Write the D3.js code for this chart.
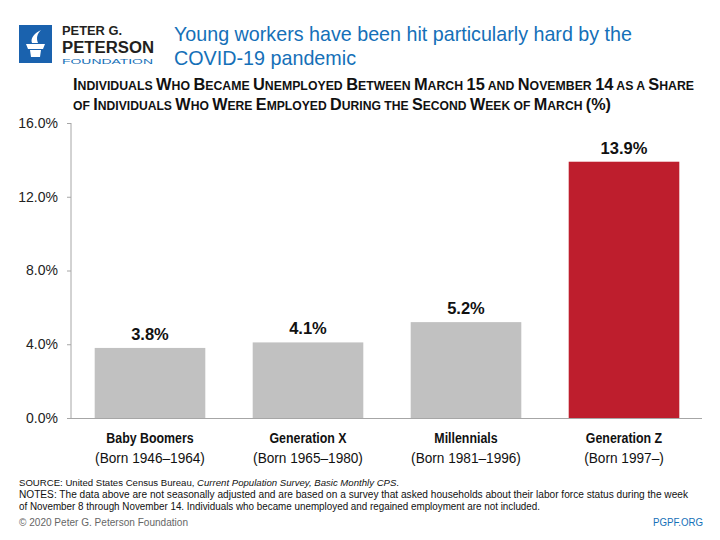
<!DOCTYPE html>
<html>
<head>
<meta charset="utf-8">
<script src="https://cdn.jsdelivr.net/npm/d3@7"></script>
<style>
  body { margin: 0; background: #fff; }
  svg { display: block; font-family: "Liberation Sans", Arial, sans-serif; }
</style>
</head>
<body>
<svg id="chart" width="720" height="540"></svg>
<script>
const categories = ['Baby Boomers', 'Generation X', 'Millennials', 'Generation Z'];
const born = ['(Born 1946\u20131964)', '(Born 1965\u20131980)', '(Born 1981\u20131996)', '(Born 1997\u2013)'];
const values = [3.8, 4.1, 5.2, 13.9];
const barColors = ['#c1c1c1', '#c1c1c1', '#c1c1c1', '#be1e2d'];
const yTicks = [0, 4, 8, 12, 16];

const blue = '#1570b8';
const svg = d3.select('#chart');

// squeeze text to a fixed width (stand-in for the condensed face)
const fit = (sel, w) => sel.attr('textLength', w).attr('lengthAdjust', 'spacingAndGlyphs');

// logo
const logo = svg.append('g');
logo.append('rect')
  .attr('x', 19).attr('y', 25).attr('width', 33).attr('height', 38)
  .attr('fill', '#1a62ae');
logo.append('path')
  .attr('d', 'M26 44 h19 l-2 5 h-15 z M30 50 h11 l-1 7 h-9 z M32 43 c-2 -5 3 -10 9 -13 c-4 4 -5 8 -3 13 z')
  .attr('fill', '#fff');
fit(logo.append('text').attr('x', 62).attr('y', 35)
  .attr('font-size', 12.5).attr('font-weight', 'bold').attr('fill', '#231f20')
  .text('PETER G.'), 60);
fit(logo.append('text').attr('x', 62).attr('y', 53)
  .attr('font-size', 16).attr('font-weight', 'bold').attr('fill', '#231f20')
  .text('PETERSON'), 92);
fit(logo.append('text').attr('x', 62).attr('y', 64)
  .attr('font-size', 7.5).attr('fill', blue)
  .text('FOUNDATION'), 91);

// title
const title = svg.append('g').attr('fill', blue).attr('font-size', 21);
fit(title.append('text').attr('x', 174).attr('y', 41)
  .text('Young workers have been hit particularly hard by the'), 458);
fit(title.append('text').attr('x', 174).attr('y', 65)
  .text('COVID-19 pandemic'), 182);

// subtitle in small caps
function smallCaps(sel, str, big, small) {
  str.split(/(\s+)/).forEach(w => {
    if (/^\s+$/.test(w)) { sel.append('tspan').attr('font-size', small).text(w); return; }
    const parts = w.match(/[a-z]+|[^a-z]+/g) || [];
    parts.forEach(p => {
      if (/[a-z]/.test(p)) sel.append('tspan').attr('font-size', small).text(p.toUpperCase());
      else sel.append('tspan').attr('font-size', big).text(p);
    });
  });
}
const sub1 = svg.append('text').attr('x', 73).attr('y', 90)
  .attr('font-weight', 'bold').attr('fill', '#111');
smallCaps(sub1, 'Individuals Who Became Unemployed Between March 15 and November 14 as a Share', 16, 12);
fit(sub1, 621);
const sub2 = svg.append('text').attr('x', 73).attr('y', 110)
  .attr('font-weight', 'bold').attr('fill', '#111');
smallCaps(sub2, 'of Individuals Who Were Employed During the Second Week of March (%)', 16, 12);
fit(sub2, 538);

// chart
const x = d3.scaleBand()
  .domain(categories)
  .range([71, 703])
  .paddingInner(0.3)
  .paddingOuter(0.15);

const y = d3.scaleLinear()
  .domain([0, 16])
  .range([418, 123]);

const yAxis = svg.append('g')
  .attr('transform', 'translate(71,0)')
  .call(d3.axisLeft(y).tickValues(yTicks).tickSize(4).tickPadding(9).tickFormat(d => d.toFixed(1) + '%'));
yAxis.select('.domain').attr('stroke', '#a6a6a6').attr('d', 'M0,123V418');
yAxis.selectAll('.tick line').attr('stroke', '#a6a6a6');
yAxis.selectAll('.tick text')
  .attr('font-size', 14).attr('fill', '#222');

svg.append('g')
  .selectAll('rect')
  .data(values)
  .join('rect')
  .attr('x', (d, i) => x(categories[i]))
  .attr('y', d => y(d))
  .attr('width', x.bandwidth())
  .attr('height', d => y(0) - y(d))
  .attr('fill', (d, i) => barColors[i]);

svg.append('line')
  .attr('x1', 67).attr('x2', 702)
  .attr('y1', y(0) + 0.5).attr('y2', y(0) + 0.5)
  .attr('stroke', '#a6a6a6');

svg.append('g')
  .selectAll('text')
  .data(values)
  .join('text')
  .attr('x', (d, i) => x(categories[i]) + x.bandwidth() / 2)
  .attr('y', d => y(d) - 8)
  .attr('text-anchor', 'middle')
  .attr('font-weight', 'bold')
  .attr('font-size', 16.5)
  .attr('fill', '#111')
  .text(d => d.toFixed(1) + '%');

// category labels, narrowed horizontally around their centre
const cx = d => x(d) + x.bandwidth() / 2;
svg.append('g')
  .selectAll('text')
  .data(categories)
  .join('text')
  .attr('transform', d => `translate(${cx(d)},443) scale(0.8,1)`)
  .attr('text-anchor', 'middle')
  .attr('font-size', 15.5)
  .attr('font-weight', 'bold')
  .attr('fill', '#111')
  .text(d => d);
svg.append('g')
  .selectAll('text')
  .data(categories)
  .join('text')
  .attr('transform', d => `translate(${cx(d)},463) scale(0.88,1)`)
  .attr('text-anchor', 'middle')
  .attr('font-size', 15.5)
  .attr('fill', '#111')
  .text((d, i) => born[i]);

// footer
const foot = svg.append('g').attr('font-size', 10).attr('fill', '#111');
const s = foot.append('text').attr('x', 19).attr('y', 486).attr('font-size', 9.6);
s.append('tspan').text('SOURCE: United States Census Bureau, ');
s.append('tspan').attr('font-style', 'italic').text('Current Population Survey, Basic Monthly CPS');
s.append('tspan').text('.');
fit(foot.append('text').attr('x', 19).attr('y', 498)
  .text('NOTES: The data above are not seasonally adjusted and are based on a survey that asked households about their labor force status during the week'), 669);
fit(foot.append('text').attr('x', 19).attr('y', 510)
  .text('of November 8 through November 14. Individuals who became unemployed and regained employment are not included.'), 521);
fit(foot.append('text').attr('x', 19).attr('y', 526).attr('fill', '#666')
  .text('\u00a9 2020 Peter G. Peterson Foundation'), 169);
fit(foot.append('text').attr('x', 653).attr('y', 526).attr('fill', blue)
  .text('PGPF.ORG'), 50);
</script>
</body>
</html>
